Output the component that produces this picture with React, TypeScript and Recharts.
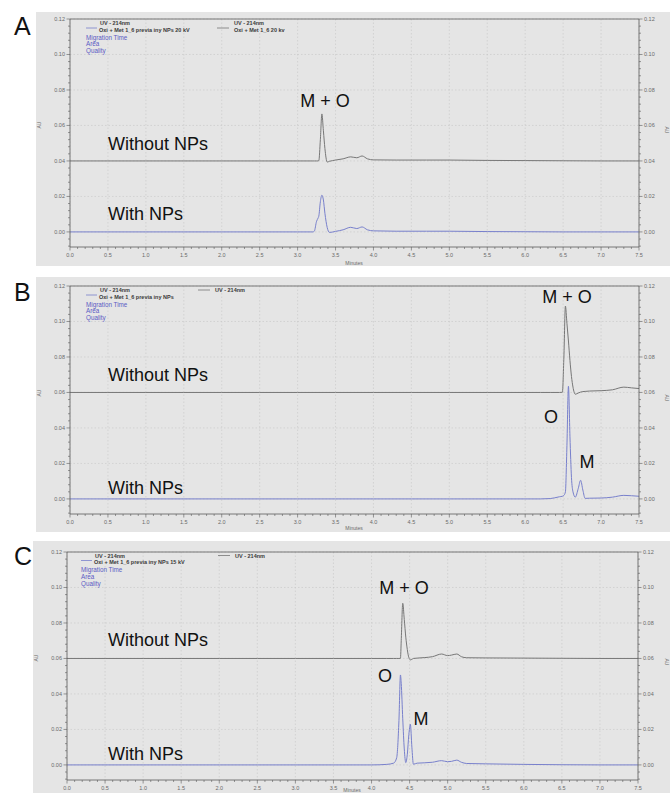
import React from 'react';
import { LineChart, Line, XAxis, YAxis, CartesianGrid, ReferenceLine } from 'recharts';

// Panel A: 20 kV
const timeA = [0, 0.5, 1, 1.5, 2, 2.5, 3, 3.2, 3.22, 3.25, 3.27, 3.28, 3.3, 3.32, 3.34, 3.36, 3.39, 3.42, 3.5, 3.6, 3.7, 3.78, 3.85, 3.92, 4, 4.3, 4.7, 5, 5.5, 6, 6.5, 7, 7.5];
const withoutA = [0.04, 0.04, 0.04, 0.04, 0.04, 0.04, 0.04, 0.04, 0.04, 0.04, 0.04, 0.0402, 0.052, 0.0665, 0.057, 0.047, 0.0394, 0.0398, 0.0405, 0.0412, 0.0423, 0.0418, 0.0428, 0.0412, 0.0406, 0.0405, 0.0405, 0.0405, 0.0403, 0.0402, 0.0401, 0.04, 0.04];
const withA = [0, 0, 0, 0, 0, 0, 0, 0, 0.0004, 0.006, 0.0078, 0.009, 0.017, 0.0207, 0.018, 0.0105, 0.0025, -0.0003, 0.0003, 0.0012, 0.0026, 0.0019, 0.0028, 0.0012, 0.0006, 0.0004, 0.0004, 0.0004, 0.0002, 0.0001, 0, 0, 0];

// Panel B
const timeB = [0, 0.5, 1, 1.5, 2, 2.5, 3, 3.5, 4, 4.5, 5, 5.5, 6, 6.2, 6.33, 6.45, 6.49, 6.51, 6.53, 6.55, 6.57, 6.59, 6.61, 6.63, 6.66, 6.7, 6.73, 6.76, 6.79, 6.85, 7, 7.15, 7.3, 7.4, 7.5];
const withoutB = [0.06, 0.06, 0.06, 0.06, 0.06, 0.06, 0.06, 0.06, 0.06, 0.06, 0.06, 0.06, 0.06, 0.06, 0.06, 0.06, 0.0601, 0.08, 0.1087, 0.099, 0.089, 0.078, 0.069, 0.063, 0.059, 0.0597, 0.0602, 0.0605, 0.0606, 0.0608, 0.061, 0.0615, 0.063, 0.0626, 0.0622];
const withB = [0, 0, 0, 0, 0, 0, 0, 0, 0, 0, 0, 0, 0, 0, 0.0002, 0.0012, 0.0015, 0.002, 0.004, 0.03, 0.0635, 0.035, 0.012, 0.004, 0.001, 0.006, 0.0105, 0.005, 0.0003, 0.0004, 0.0005, 0.001, 0.002, 0.0018, 0.0015];

// Panel C: 15 kV
const timeC = [0, 0.5, 1, 1.5, 2, 2.5, 3, 3.5, 4, 4.2, 4.29, 4.33, 4.36, 4.38, 4.39, 4.41, 4.43, 4.45, 4.47, 4.49, 4.51, 4.53, 4.55, 4.6, 4.7, 4.8, 4.92, 5, 5.05, 5.12, 5.18, 5.25, 5.5, 6, 6.5, 7, 7.5];
const withoutC = [0.06, 0.06, 0.06, 0.06, 0.06, 0.06, 0.06, 0.06, 0.06, 0.06, 0.06, 0.06, 0.06, 0.0601, 0.07, 0.0911, 0.082, 0.072, 0.065, 0.0605, 0.0592, 0.0595, 0.06, 0.0602, 0.0605, 0.061, 0.0625, 0.0616, 0.0619, 0.0625, 0.061, 0.0604, 0.0603, 0.0602, 0.0601, 0.06, 0.06];
const withC = [0, 0, 0, 0, 0, 0, 0, 0, 0, 0.0003, 0.001, 0.004, 0.025, 0.0507, 0.046, 0.026, 0.009, 0.0013, 0.006, 0.017, 0.0229, 0.01, 0.0004, 0.001, 0.0012, 0.0015, 0.0024, 0.0018, 0.002, 0.0027, 0.0015, 0.0008, 0.0006, 0.0003, 0.0001, 0, 0];

const X_MAJOR = [0, 0.5, 1, 1.5, 2, 2.5, 3, 3.5, 4, 4.5, 5, 5.5, 6, 6.5, 7, 7.5];
const Y_MAJOR = [0, 0.02, 0.04, 0.06, 0.08, 0.1, 0.12];

const xTicks = X_MAJOR.flatMap((v, i) => (i < X_MAJOR.length - 1 ? [0, 1, 2, 3, 4].map(k => v + k * 0.1) : [v]));
const yTicks = [-0.008, -0.004, ...Y_MAJOR.flatMap((v, i) => (i < Y_MAJOR.length - 1 ? [0, 1, 2, 3, 4].map(k => v + k * 0.004) : [v]))];

const BLUE = '#7880cc';
const GREY = '#777777';
const AXIS = '#5a5a5a';
const TICK = '#6a6a6a';
const LEG = '#5b5bc4';
const BG = '#e5e5e5';
const FONT = '"Liberation Sans", Arial, sans-serif';

const isMajor = (v: number, majors: number[]) => majors.some(m => Math.abs(m - v) < 1e-6);

const XTick = (p: any) => {
  const { x, y, payload } = p;
  const major = isMajor(payload.value, X_MAJOR);
  return (
    <g>
      <line x1={x} x2={x} y1={y} y2={y + (major ? 3.5 : 2)} stroke={AXIS} strokeWidth={0.6} />
      {major && (
        <text x={x} y={y + 10} textAnchor="middle" fontSize={5.5} fill={TICK} fontFamily={FONT}>
          {payload.value.toFixed(1)}
        </text>
      )}
    </g>
  );
};

const YTick = (p: any) => {
  const { x, y, payload, side } = p;
  const major = isMajor(payload.value, Y_MAJOR);
  const dir = side === 'left' ? -1 : 1;
  return (
    <g>
      <line x1={x} x2={x + dir * (major ? 3.5 : 2)} y1={y} y2={y} stroke={AXIS} strokeWidth={0.6} />
      {major && (
        <text x={x + dir * 5} y={y + 2} textAnchor={dir < 0 ? 'end' : 'start'} fontSize={5.5} fill={TICK} fontFamily={FONT}>
          {payload.value.toFixed(2)}
        </text>
      )}
    </g>
  );
};

type PanelProps = {
  time: number[];
  without: number[];
  withNP: number[];
  left: number;
  top: number;
  width: number;
  height: number;
  marginTop: number;
  xHeight: number;
  rightW: number;
};

const Panel = ({ time, without, withNP, left, top, width, height, marginTop, xHeight, rightW }: PanelProps) => {
  const data = time.map((t, i) => ({ t, without: without[i], withNP: withNP[i] }));
  return (
    <div style={{ position: 'absolute', left, top, width, height, background: BG }}>
      <LineChart width={width} height={height} data={data} margin={{ top: marginTop, right: 0, bottom: 0, left: 0 }}>
        <CartesianGrid horizontalValues={Y_MAJOR} verticalValues={X_MAJOR} stroke="#c6c6c6" strokeDasharray="1.5 2" strokeWidth={0.6} />
        <XAxis
          dataKey="t"
          type="number"
          domain={[0, 7.5]}
          ticks={xTicks}
          interval={0}
          height={xHeight}
          tickSize={0}
          tickMargin={0}
          tickLine={false}
          axisLine={{ stroke: AXIS, strokeWidth: 0.8 }}
          tick={(p: any) => <XTick {...p} />}
        />
        <YAxis
          type="number"
          domain={[-0.0085, 0.12]}
          ticks={yTicks}
          interval={0}
          width={34}
          tickSize={0}
          tickMargin={0}
          tickLine={false}
          axisLine={{ stroke: AXIS, strokeWidth: 0.8 }}
          tick={(p: any) => <YTick {...p} side="left" />}
        />
        <YAxis
          yAxisId="r"
          orientation="right"
          type="number"
          domain={[-0.0085, 0.12]}
          ticks={yTicks}
          interval={0}
          width={rightW}
          tickSize={0}
          tickMargin={0}
          tickLine={false}
          axisLine={{ stroke: AXIS, strokeWidth: 0.8 }}
          tick={(p: any) => <YTick {...p} side="right" />}
        />
        <ReferenceLine y={0.12} stroke={AXIS} strokeWidth={0.8} />
        <Line type="monotone" dataKey="without" stroke={GREY} strokeWidth={1} dot={false} isAnimationActive={false} />
        <Line yAxisId="r" type="monotone" dataKey="withNP" stroke={BLUE} strokeWidth={1} dot={false} isAnimationActive={false} />
      </LineChart>
    </div>
  );
};

const Legend = ({ x, y, blueName, greyX, greyName }: { x: number; y: number; blueName: string; greyX: number; greyName?: string }) => (
  <g fontFamily={FONT}>
    <line x1={x} x2={x + 11} y1={y + 3} y2={y + 3} stroke={BLUE} strokeWidth={0.8} />
    <text x={x + 14} y={y} fontSize={5.5} fontWeight="bold" fill="#3a3a3a">UV - 214nm</text>
    <text x={x + 13} y={y + 6.5} fontSize={5.5} fontWeight="bold" fill="#3a3a3a">{blueName}</text>
    <line x1={greyX} x2={greyX + 12} y1={greyName ? y + 3 : y - 2} y2={greyName ? y + 3 : y - 2} stroke={GREY} strokeWidth={0.8} />
    <text x={greyX + 17} y={y} fontSize={5.5} fontWeight="bold" fill="#3a3a3a">UV - 214nm</text>
    {greyName && <text x={greyX + 17} y={y + 6.5} fontSize={5.5} fontWeight="bold" fill="#3a3a3a">{greyName}</text>}
    <text x={x} y={y + 14.5} fontSize={6.3} fill={LEG}>Migration Time</text>
    <text x={x} y={y + 21} fontSize={6.3} fill={LEG}>Area</text>
    <text x={x} y={y + 28} fontSize={6.3} fill={LEG}>Quality</text>
  </g>
);

const Note = ({ x, y, children, anchor = 'start' }: { x: number; y: number; children: React.ReactNode; anchor?: string }) => (
  <text x={x} y={y} fontSize={18} fill="#111" fontFamily={FONT} textAnchor={anchor as any}>{children}</text>
);

const Small = ({ x, y, children, rot = 0 }: { x: number; y: number; children: React.ReactNode; rot?: number }) => (
  <text x={x} y={y} fontSize={5} fill={TICK} fontFamily={FONT} textAnchor="middle" transform={rot ? `rotate(${rot} ${x} ${y})` : undefined}>{children}</text>
);

export default function App() {
  return (
    <div style={{ position: 'absolute', left: 0, top: 0, width: 670, height: 793, background: '#fff', overflow: 'hidden' }}>
      <Panel time={timeA} without={withoutA} withNP={withA} left={36} top={12} width={634} height={254} marginTop={7} xHeight={19} rightW={31} />
      <Panel time={timeB} without={withoutB} withNP={withB} left={36} top={277} width={634} height={255} marginTop={9} xHeight={18} rightW={31} />
      <Panel time={timeC} without={withoutC} withNP={withC} left={33} top={541} width={637} height={252} marginTop={11} xHeight={13} rightW={32} />
      <svg width={670} height={793} style={{ position: 'absolute', left: 0, top: 0, pointerEvents: 'none' }}>
        <text x={14} y={35} fontSize={25} fill="#111" fontFamily={FONT}>A</text>
        <text x={14} y={301} fontSize={25} fill="#111" fontFamily={FONT}>B</text>
        <text x={14} y={565} fontSize={25} fill="#111" fontFamily={FONT}>C</text>

        <Legend x={86} y={25} blueName="Oxi + Met 1_6 previa iny NPs 20 kV" greyX={217} greyName="Oxi + Met 1_6 20 kv" />
        <Legend x={86} y={292} blueName="Oxi + Met 1_6 previa iny NPs" greyX={198} />
        <Legend x={81} y={557.5} blueName="Oxi + Met 1_6 previa iny NPs 15 kV" greyX={218} />

        <Note x={325} y={107} anchor="middle">M + O</Note>
        <Note x={108} y={150}>Without NPs</Note>
        <Note x={108} y={220}>With NPs</Note>

        <Note x={567} y={303} anchor="middle">M + O</Note>
        <Note x={108} y={381}>Without NPs</Note>
        <Note x={108} y={494}>With NPs</Note>
        <Note x={551} y={423} anchor="middle">O</Note>
        <Note x={587} y={468} anchor="middle">M</Note>

        <Note x={404} y={594} anchor="middle">M + O</Note>
        <Note x={108} y={646}>Without NPs</Note>
        <Note x={108} y={760}>With NPs</Note>
        <Note x={385} y={682} anchor="middle">O</Note>
        <Note x={421} y={725} anchor="middle">M</Note>

        <Small x={41} y={125} rot={-90}>AU</Small>
        <Small x={665} y={130} rot={90}>AU</Small>
        <Small x={41} y={393} rot={-90}>AU</Small>
        <Small x={665} y={398} rot={90}>AU</Small>
        <Small x={38} y={658} rot={-90}>AU</Small>
        <Small x={665} y={662} rot={90}>AU</Small>

        <Small x={354} y={265}>Minutes</Small>
        <Small x={354} y={530}>Minutes</Small>
        <Small x={352} y={792}>Minutes</Small>
      </svg>
    </div>
  );
}
